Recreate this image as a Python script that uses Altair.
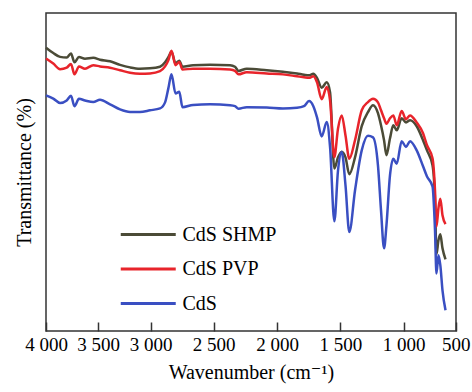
import altair as alt
import pandas as pd

# Wavenumbers (cm-1) at which the three spectra were read
wavenumber = [4000, 3930, 3865, 3801, 3760, 3726, 3683, 3625, 3545, 3481,
              3386, 3291, 3196, 3102, 3007, 2926, 2886, 2860, 2835, 2803,
              2773, 2748, 2664, 2529, 2371, 2332, 2304, 2239, 2081, 1953,
              1842, 1787, 1747, 1713, 1684, 1647, 1607, 1581, 1547, 1518,
              1489, 1459, 1429, 1384, 1331, 1282, 1242, 1203, 1179, 1155,
              1136, 1108, 1082, 1055, 1016, 978, 939, 875, 814, 776,
              723, 699, 685, 666, 648, 627, 598]

cds_shmp = [89.1, 87.4, 86.2, 86.0, 87.3, 84.5, 86.2, 85.6, 85.9, 85.3,
            84.8, 83.7, 82.9, 82.5, 82.6, 83.1, 84.5, 86.1, 87.8, 84.2,
            85.0, 83.1, 83.6, 83.7, 83.6, 83.1, 81.8, 82.5, 82.0, 81.5,
            81.0, 80.6, 80.4, 80.9, 79.6, 76.5, 78.2, 75.1, 51.1, 54.6,
            56.4, 54.6, 49.3, 54.6, 64.4, 68.8, 71.0, 68.5, 64.7, 60.0,
            55.3, 60.6, 64.7, 63.1, 66.9, 65.6, 66.3, 64.4, 60.0, 56.8,
            52.1, 41.1, 24.1, 28.5, 30.4, 26.0, 22.5]

cds_pvp = [85.7, 84.1, 82.3, 82.8, 84.0, 80.7, 83.2, 82.5, 83.6, 83.2,
           82.8, 82.0, 81.2, 80.9, 81.0, 81.7, 83.2, 85.1, 88.1, 83.6,
           84.6, 82.2, 82.5, 82.5, 82.2, 81.8, 80.7, 81.4, 81.0, 80.7,
           80.1, 79.8, 79.6, 80.1, 78.2, 72.9, 76.7, 72.5, 54.7, 63.7,
           67.8, 61.5, 54.2, 60.0, 69.4, 72.0, 73.0, 71.9, 69.4, 66.9,
           65.2, 66.9, 67.8, 64.7, 69.2, 66.6, 67.8, 65.6, 62.2, 58.4,
           54.3, 44.2, 32.9, 38.6, 41.6, 36.4, 33.6]

cds = [74.1, 73.1, 71.7, 72.5, 74.0, 70.7, 73.0, 72.5, 72.0, 72.7,
       71.3, 69.7, 68.9, 68.9, 69.4, 70.0, 71.9, 76.3, 80.7, 74.7,
       75.2, 70.4, 71.1, 71.3, 71.0, 70.7, 69.9, 70.4, 70.3, 70.0,
       70.2, 70.7, 72.3, 70.7, 67.2, 61.2, 65.7, 57.9, 34.5, 50.5,
       56.3, 45.8, 31.1, 44.2, 56.8, 61.4, 60.9, 52.1, 38.0, 26.0,
       33.2, 49.0, 54.2, 52.6, 59.7, 57.9, 59.7, 56.8, 51.8, 48.6,
       45.5, 31.7, 18.1, 23.8, 20.7, 12.8, 6.5]

series_names = ["CdS SHMP", "CdS PVP", "CdS"]
series_colors = ["#4b4b37", "#e8242b", "#3a4fc2"]
x_ticks = [4000, 3500, 3000, 2500, 2000, 1500, 1000, 500]

rows = []
for idx, (name, vals) in enumerate(zip(series_names, [cds_shmp, cds_pvp, cds])):
    for w, v in zip(wavenumber, vals):
        rows.append({"wavenumber": w, "transmittance": v, "sample": name, "k": idx})
df = pd.DataFrame(rows)

FONT = "Liberation Serif, Times New Roman, DejaVu Serif, serif"

chart = alt.Chart(df).mark_line(strokeWidth=2.5, interpolate="monotone").encode(
    x=alt.X(
        "wavenumber:Q",
        scale=alt.Scale(domain=x_ticks,
                        range=[0, 52, 104.7, 167.7, 231, 294.3, 357.7, 409.7],
                        nice=False, zero=False),
        axis=alt.Axis(values=x_ticks, title="Wavenumber (cm⁻¹)",
                      labelExpr="replace(format(datum.value, ','), ',', ' ')",
                      offset=-9, tickSize=9, domain=False, grid=False,
                      labelFlush=False, labelOverlap=False, labelPadding=4,
                      labelFont=FONT, labelFontSize=19, labelColor="black",
                      tickColor="#333333", tickWidth=1.5,
                      titleFont=FONT, titleFontSize=20, titleFontWeight="normal",
                      titleColor="black", titlePadding=8),
    ),
    y=alt.Y(
        "transmittance:Q",
        scale=alt.Scale(domain=[0, 100], nice=False, zero=False),
        axis=alt.Axis(title="Transmittance (%)", labels=False, ticks=False,
                      domain=False, grid=False, titleFont=FONT, titleFontSize=20,
                      titleFontWeight="normal", titleColor="black", titlePadding=12),
    ),
    color=alt.Color(
        "sample:N",
        scale=alt.Scale(domain=series_names, range=series_colors),
        legend=alt.Legend(title=None, orient="none", legendX=73, legendY=206,
                          symbolType="M-1,0H3", symbolSize=756, symbolStrokeWidth=3,
                          labelFont=FONT, labelFontSize=20, labelColor="black",
                          labelOffset=32.5, rowPadding=8.5, padding=0),
    ),
    detail="k:O",
).properties(
    width=410, height=318,
    autosize=alt.AutoSizeParams(type="none"),
    padding={"left": 46, "top": 13, "right": 16, "bottom": 61},
).configure_view(stroke="#333333", strokeWidth=1.5)

chart.save("out.html", embed_options={"renderer": "svg", "actions": False})
